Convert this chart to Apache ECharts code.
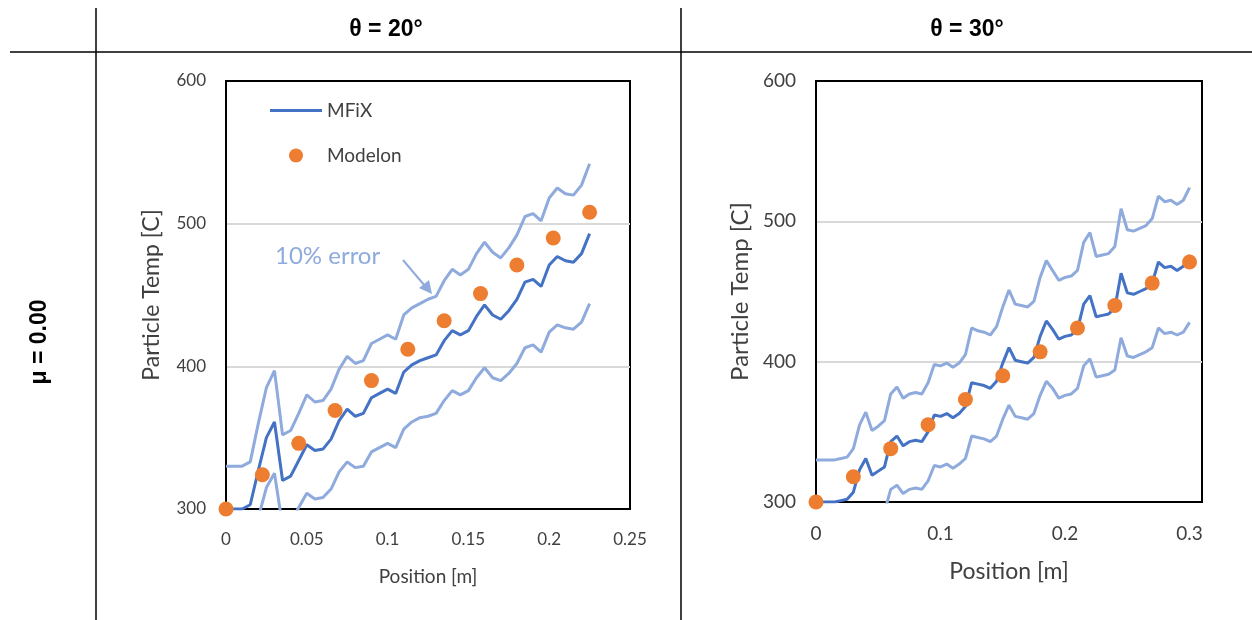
<!DOCTYPE html>
<html>
<head>
<meta charset="utf-8">
<script src="https://cdn.jsdelivr.net/npm/echarts@6/dist/echarts.min.js"></script>
<style>
  html, body { margin: 0; padding: 0; background: #fff; }
  #chart { width: 1252px; height: 620px; }
</style>
</head>
<body>
<div id="chart"></div>
<script>
// θ = 20°  (MFiX 曲线 + 上下10%误差线)
const posA = [0, 0.005, 0.01, 0.015, 0.02, 0.025, 0.03, 0.035, 0.04, 0.045,
  0.05, 0.055, 0.06, 0.065, 0.07, 0.075, 0.08, 0.085, 0.09, 0.095,
  0.1, 0.105, 0.11, 0.115, 0.12, 0.125, 0.13, 0.135, 0.14, 0.145,
  0.15, 0.155, 0.16, 0.165, 0.17, 0.175, 0.18, 0.185, 0.19, 0.195,
  0.2, 0.205, 0.21, 0.215, 0.22, 0.225];
const mfixA = [300, 300, 300, 303, 327, 350, 361, 320, 323, 334,
  345, 341, 342, 349, 362, 370, 365, 367, 378, 381,
  384, 381, 396, 401, 404, 406, 408, 418, 425, 422,
  425, 435, 443, 436, 433, 439, 447, 459, 461, 456,
  471, 477, 474, 473, 479, 493];
const upperA = [330, 330, 330, 333, 360, 385, 397, 352, 355, 367,
  380, 375, 376, 384, 398, 407, 402, 404, 416, 419,
  422, 419, 436, 441, 444, 447, 449, 460, 468, 464,
  468, 479, 487, 480, 476, 483, 492, 505, 507, 502,
  518, 525, 521, 520, 527, 542];
const lowerA = [270, 270, 270, 273, 294, 315, 325, 288, 291, 301,
  311, 307, 308, 314, 326, 333, 329, 330, 340, 343,
  346, 343, 356, 361, 364, 365, 367, 376, 383, 380,
  383, 392, 399, 392, 390, 395, 402, 413, 415, 410,
  424, 429, 427, 426, 431, 444];
const modelonPosA = [0, 0.0225, 0.045, 0.0675, 0.09, 0.1125, 0.135, 0.1575, 0.18, 0.2025, 0.225];
const modelonA = [300, 324, 346, 369, 390, 412, 432, 451, 471, 490, 508];

// θ = 30°
const posB = [0, 0.005, 0.01, 0.015, 0.02, 0.025, 0.03, 0.035, 0.04, 0.045,
  0.05, 0.055, 0.06, 0.065, 0.07, 0.075, 0.08, 0.085, 0.09, 0.095,
  0.1, 0.105, 0.11, 0.115, 0.12, 0.125, 0.13, 0.135, 0.14, 0.145,
  0.15, 0.155, 0.16, 0.165, 0.17, 0.175, 0.18, 0.185, 0.19, 0.195,
  0.2, 0.205, 0.21, 0.215, 0.22, 0.225, 0.23, 0.235, 0.24, 0.245,
  0.25, 0.255, 0.26, 0.265, 0.27, 0.275, 0.28, 0.285, 0.29, 0.295, 0.3];
const mfixB = [300, 300, 300, 300, 301, 302, 307, 323, 331, 319,
  322, 325, 343, 347, 340, 343, 344, 343, 350, 362,
  361, 363, 360, 363, 368, 385, 384, 383, 381, 386,
  399, 410, 401, 400, 399, 403, 418, 429, 423, 416,
  418, 419, 423, 441, 447, 432, 433, 434, 438, 463,
  449, 448, 450, 452, 456, 471, 467, 468, 465, 468, 476];
const upperB = [330, 330, 330, 330, 331, 332, 338, 355, 364, 351,
  354, 358, 377, 382, 374, 377, 378, 377, 385, 398,
  397, 399, 396, 399, 405, 424, 422, 421, 419, 425,
  439, 451, 441, 440, 439, 443, 460, 472, 465, 458,
  460, 461, 465, 485, 492, 475, 476, 477, 482, 509,
  494, 493, 495, 497, 502, 518, 514, 515, 512, 515, 524];
const lowerB = [270, 270, 270, 270, 271, 272, 276, 291, 298, 287,
  290, 293, 309, 312, 306, 309, 310, 309, 315, 326,
  325, 327, 324, 327, 331, 347, 346, 345, 343, 347,
  359, 369, 361, 360, 359, 363, 376, 386, 381, 374,
  376, 377, 381, 397, 402, 389, 390, 391, 394, 417,
  404, 403, 405, 407, 410, 424, 420, 421, 419, 421, 428];
const modelonPosB = [0, 0.03, 0.06, 0.09, 0.12, 0.15, 0.18, 0.21, 0.24, 0.27, 0.3];
const modelonB = [300, 318, 338, 355, 373, 390, 407, 424, 440, 456, 471];

const font = 'Lato';
const txt = '#404040';
const pairs = (xs, ys) => xs.map((x, i) => [x, ys[i]]);

function xAxis(idx, max, interval, gap, labelSize, nameSize) {
  return {
    gridIndex: idx, type: 'value', min: 0, max: max, interval: interval,
    name: 'Position [m]', nameLocation: 'middle', nameGap: gap,
    nameTextStyle: { fontSize: nameSize, color: txt, fontFamily: font },
    axisLine: { show: true, lineStyle: { color: '#000', width: 2 } },
    axisTick: { show: false }, splitLine: { show: false },
    axisLabel: { fontSize: labelSize, color: txt, fontFamily: font, margin: 22, showMaxLabel: max === 0.25 }
  };
}
function yAxis(idx, gap, labelSize, nameSize) {
  return {
    gridIndex: idx, type: 'value', min: 300, max: 600, interval: 100,
    name: 'Particle Temp [C]', nameLocation: 'middle', nameGap: gap,
    nameTextStyle: { fontSize: nameSize, color: txt, fontFamily: font },
    axisLine: { show: true, lineStyle: { color: '#000', width: 2 } }, axisTick: { show: false },
    splitLine: { showMinLine: false, showMaxLine: false, lineStyle: { color: '#d9d9d9', width: 2 } },
    axisLabel: { fontSize: labelSize, color: txt, fontFamily: font, margin: 20 }
  };
}
function lines(idx, pos, mfix, upper, lower, mpos, modelon) {
  const err = { color: '#8FAADC', width: 3 };
  return [
    { name: 'upper' + idx, type: 'line', xAxisIndex: idx, yAxisIndex: idx, data: pairs(pos, upper),
      symbol: 'none', lineStyle: err, z: 2, silent: true },
    { name: 'lower' + idx, type: 'line', xAxisIndex: idx, yAxisIndex: idx, data: pairs(pos, lower),
      symbol: 'none', lineStyle: err, z: 2, silent: true },
    { name: 'MFiX', type: 'line', xAxisIndex: idx, yAxisIndex: idx, data: pairs(pos, mfix),
      symbol: 'none', itemStyle: { color: '#4472C4' }, lineStyle: { color: '#4472C4', width: 3 }, z: 3 },
    { name: 'Modelon', type: 'scatter', xAxisIndex: idx, yAxisIndex: idx, data: pairs(mpos, modelon),
      symbolSize: 15, itemStyle: { color: '#ED7D31', opacity: 1 }, z: 4 }
  ];
}

let chart = echarts.init(document.getElementById('chart'));
chart.setOption({
  animation: false,
  grid: [
    { left: 226, top: 81, width: 404, height: 428, show: true, borderColor: '#000', borderWidth: 2 },
    { left: 816, top: 81, width: 386, height: 421, show: true, borderColor: '#000', borderWidth: 2 }
  ],
  xAxis: [xAxis(0, 0.25, 0.05, 58, 17, 19), xAxis(1, 0.31, 0.1, 58, 19, 23)],
  yAxis: [yAxis(0, 63, 17, 23), yAxis(1, 64, 19, 24)],
  legend: {
    data: [
      // 只画线段，不带圆点
      { name: 'MFiX', icon: 'path://M0,0L0.01,0M0,5.5L52,5.5L52,8.5L0,8.5ZM0,14L0.01,14' },
      { name: 'Modelon', icon: 'circle' }
    ],
    orient: 'vertical', left: 270, top: 101, padding: 0,
    itemWidth: 52, itemHeight: 14, itemGap: 26,
    textStyle: { fontSize: 19, color: txt, fontFamily: font }
  },
  series: [].concat(
    lines(0, posA, mfixA, upperA, lowerA, modelonPosA, modelonA),
    lines(1, posB, mfixB, upperB, lowerB, modelonPosB, modelonB)
  ),
  graphic: [
    // 表格线
    { type: 'line', shape: { x1: 96, y1: 8, x2: 96, y2: 620 }, style: { stroke: '#000', lineWidth: 1.5 } },
    { type: 'line', shape: { x1: 681, y1: 8, x2: 681, y2: 620 }, style: { stroke: '#000', lineWidth: 1.5 } },
    { type: 'line', shape: { x1: 10, y1: 52, x2: 1252, y2: 52 }, style: { stroke: '#000', lineWidth: 1.5 } },
    { type: 'text', x: 386, y: 30, style: { text: 'θ = 20°', font: 'bold 23px "Liberation Sans"', fill: '#000', align: 'center', verticalAlign: 'middle' } },
    { type: 'text', x: 967, y: 30, style: { text: 'θ = 30°', font: 'bold 23px "Liberation Sans"', fill: '#000', align: 'center', verticalAlign: 'middle' } },
    { type: 'text', x: 40, y: 342, rotation: Math.PI / 2, style: { text: 'μ = 0.00', font: 'bold 23px "Liberation Sans"', fill: '#000', align: 'center', verticalAlign: 'middle' } },
    // 10% error 标注
    { type: 'text', x: 275, y: 256, z: 10, style: { text: '10% error', font: '24px Lato', fill: '#8FAADC', verticalAlign: 'middle' } },
    { type: 'line', z: 10, shape: { x1: 403, y1: 260, x2: 425, y2: 286 }, style: { stroke: '#8FAADC', lineWidth: 2 } },
    { type: 'polygon', z: 10, shape: { points: [[432, 294], [419, 288], [429, 280]] }, style: { fill: '#8FAADC' } }
  ]
});
</script>
</body>
</html>
